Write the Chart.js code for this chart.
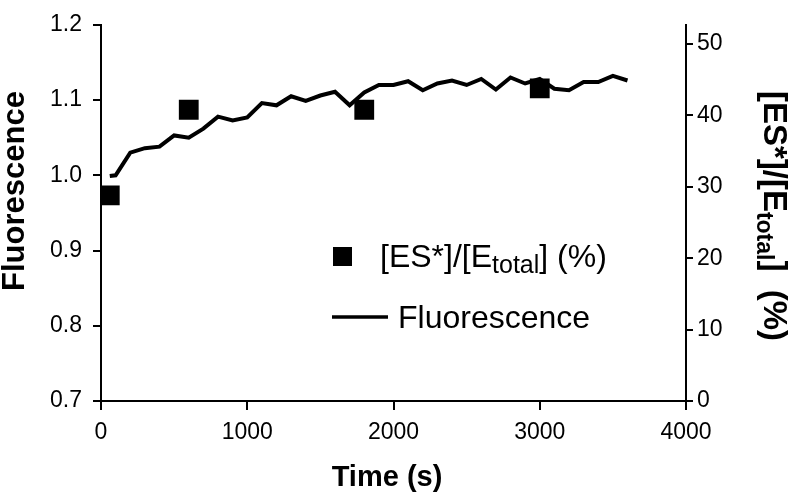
<!DOCTYPE html>
<html>
<head>
<meta charset="utf-8">
<script src="https://cdn.jsdelivr.net/npm/chart.js@4/dist/chart.umd.min.js"></script>
<style>
  html, body { margin: 0; padding: 0; background: #fff; }
  #wrap { width: 791px; height: 497px; }
</style>
</head>
<body>
<div id="wrap"><canvas id="c" width="791" height="497"></canvas></div>
<script>
// ---- data ----
const times = [60,100,200,300,400,500,600,700,800,900,1000,1100,1200,1300,1400,1500,1600,1700,1800,1900,2000,2100,2200,2300,2400,2500,2600,2700,2800,2900,3000,3100,3200,3300,3400,3500,3600];
const fluorescence = [0.999,1.000,1.030,1.036,1.038,1.053,1.050,1.062,1.078,1.073,1.077,1.096,1.093,1.105,1.099,1.106,1.111,1.093,1.110,1.120,1.120,1.125,1.113,1.122,1.126,1.120,1.128,1.114,1.130,1.122,1.128,1.115,1.113,1.124,1.124,1.132,1.126];
const esTimes = [60, 600, 1800, 3000];
const esPercent = [28.8, 40.8, 40.8, 43.8];
const xTicks = [0, 1000, 2000, 3000, 4000];
const leftTicks = [0.7, 0.8, 0.9, 1.0, 1.1, 1.2];
const rightTicks = [0, 10, 20, 30, 40, 50];

const FONT = "'Liberation Sans', Arial, Helvetica, sans-serif";
Chart.defaults.font.family = FONT;
Chart.defaults.font.size = 23;
Chart.defaults.color = '#000';

const titlePlugin = {
  id: 'titles',
  afterDraw(chart) {
    const ctx = chart.ctx;
    ctx.save();
    ctx.fillStyle = '#000';
    // bottom title
    ctx.font = 'bold 29px ' + FONT;
    ctx.textAlign = 'center';
    ctx.textBaseline = 'alphabetic';
    ctx.fillText('Time (s)', 387, 486);
    // left title
    ctx.save();
    ctx.translate(24, 191);
    ctx.rotate(-Math.PI / 2);
    ctx.font = 'bold 31px ' + FONT;
    ctx.textAlign = 'center';
    ctx.fillText('Fluorescence', 0, 0);
    ctx.restore();
    // right title (rotated clockwise), with subscript
    ctx.save();
    ctx.translate(764, 216);
    ctx.rotate(Math.PI / 2);
    const mainF = 'bold 33px ' + FONT, subF = 'bold 23px ' + FONT;
    const p1 = '[ES*]/[E', p2 = 'total', p3 = ']  (%)';
    ctx.font = mainF; const w1 = ctx.measureText(p1).width, w3 = ctx.measureText(p3).width;
    ctx.font = subF; const w2 = ctx.measureText(p2).width;
    let x0 = -(w1 + w2 + w3) / 2;
    ctx.textAlign = 'left';
    ctx.font = mainF; ctx.fillText(p1, x0, 0);
    ctx.font = subF; ctx.fillText(p2, x0 + w1, 7);
    ctx.font = mainF; ctx.fillText(p3, x0 + w1 + w2, 0);
    ctx.restore();
    // legend
    ctx.fillRect(333, 247, 19, 19);
    ctx.textAlign = 'left';
    const lm = '32px ' + FONT, ls = '25px ' + FONT;
    ctx.font = lm; ctx.fillText('[ES*]/[E', 380, 267);
    let lw = ctx.measureText('[ES*]/[E').width;
    ctx.font = ls; ctx.fillText('total', 380 + lw, 273);
    let lw2 = ctx.measureText('total').width;
    ctx.font = lm; ctx.fillText('] (%)', 380 + lw + lw2, 267);
    ctx.lineWidth = 3.5;
    ctx.strokeStyle = '#000';
    ctx.beginPath(); ctx.moveTo(332, 317); ctx.lineTo(388, 317); ctx.stroke();
    ctx.fillText('Fluorescence', 398, 328);
    ctx.restore();
  }
};

const gridOpts = (len) => ({ drawOnChartArea: false, drawTicks: true, tickLength: len, color: '#000', lineWidth: 2 });
const tickFont = { family: FONT, size: 23 };

new Chart(document.getElementById('c'), {
  type: 'line',
  data: {
    datasets: [
      {
        label: 'Fluorescence',
        data: times.map((t, i) => ({ x: t, y: fluorescence[i] })),
        yAxisID: 'y',
        borderColor: '#000',
        borderWidth: 4,
        pointRadius: 0,
        tension: 0,
        fill: false
      },
      {
        type: 'scatter',
        label: '[ES*]/[Etotal] (%)',
        data: esTimes.map((t, i) => ({ x: t, y: esPercent[i] })),
        yAxisID: 'y1',
        pointStyle: 'rect',
        pointRadius: 14,
        pointHoverRadius: 14,
        backgroundColor: '#000',
        borderColor: '#000',
        borderWidth: 0,
        showLine: false
      }
    ]
  },
  options: {
    responsive: false,
    animation: false,
    devicePixelRatio: 1,
    layout: { padding: { top: 12, left: 0, right: 0, bottom: 0 } },
    plugins: { legend: { display: false }, tooltip: { enabled: false } },
    scales: {
      x: {
        type: 'linear', min: 0, max: 4000,
        afterBuildTicks: (s) => { s.ticks = xTicks.map(v => ({ value: v })); },
        afterFit: (s) => { s.height = 96; },
        border: { color: '#000', width: 2 },
        grid: gridOpts(9),
        ticks: { color: '#000', font: tickFont, padding: 9, maxRotation: 0, autoSkip: false, callback: (v) => String(v) }
      },
      y: {
        position: 'left', min: 0.7, max: 1.2,
        afterBuildTicks: (s) => { s.ticks = leftTicks.map(v => ({ value: v })); },
        afterFit: (s) => { s.width = 101; },
        border: { color: '#000', width: 2 },
        grid: gridOpts(8),
        ticks: { color: '#000', font: tickFont, padding: 11, autoSkip: false, callback: (v) => Number(v).toFixed(1) }
      },
      y1: {
        position: 'right', min: 0, max: 52.7,
        afterBuildTicks: (s) => { s.ticks = rightTicks.map(v => ({ value: v })); },
        afterFit: (s) => { s.width = 105; },
        border: { color: '#000', width: 2 },
        grid: gridOpts(7),
        ticks: { color: '#000', font: tickFont, padding: 4, autoSkip: false, callback: (v) => String(v) }
      }
    }
  },
  plugins: [titlePlugin]
});
</script>
</body>
</html>
